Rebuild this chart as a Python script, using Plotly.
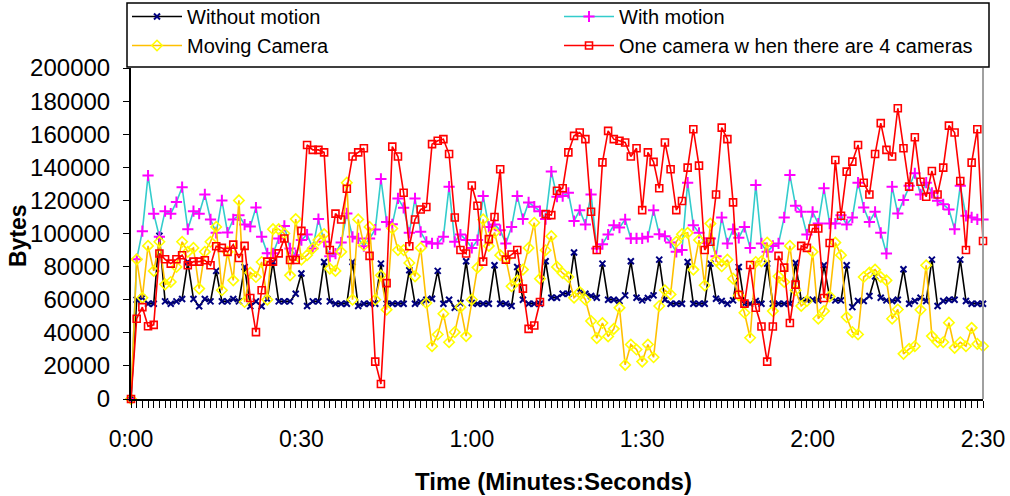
import plotly.graph_objects as go

seconds = list(range(0, 151))
tick_vals = [0, 30, 60, 90, 120, 150]
tick_text = ["0:00", "0:30", "1:00", "1:30", "2:00", "2:30"]

without_motion = [
    0, 60000, 61200, 57600, 57600, 98600, 59000, 57600, 59000, 60400,
    82800, 60400, 56000, 60400, 59000, 77400, 59000, 59000, 60400, 59000,
    79800, 56000, 59000, 56000, 60400, 82800, 59000, 59000, 59000, 63600,
    75800, 56200, 59000, 59000, 82800, 59000, 57600, 57600, 57600, 82800,
    56200, 57600, 57600, 57600, 81800, 57600, 57600, 57600, 57600, 77800,
    57600, 58600, 60000, 60600, 77400, 57600, 60000, 55100, 58000, 83200,
    58000, 57600, 57600, 57600, 80800, 57600, 57600, 56200, 79800, 60000,
    57600, 57600, 57600, 83200, 61200, 61200, 63600, 63600, 88500, 64600,
    63600, 62200, 61200, 81800, 60000, 60000, 59200, 62600, 83200, 61200,
    59600, 61000, 62600, 84200, 60000, 57600, 57600, 57600, 82800, 57600,
    57600, 57600, 81800, 60600, 59200, 57600, 59600, 79800, 57600, 57600,
    59200, 57600, 81800, 57600, 57600, 57600, 57600, 82200, 59600, 59600,
    60000, 59600, 80800, 61600, 59600, 59600, 80800, 55500, 59200, 59200,
    62200, 74100, 61200, 59600, 59200, 60000, 78400, 57600, 59200, 61200,
    59200, 84200, 56200, 59200, 60000, 60000, 84200, 59200, 57600, 57600,
    57600,
]

with_motion = [
    0, 84400, 101400, 135000, 112000, 98000, 113500, 112000, 119000, 128000,
    102600, 113500, 112000, 123600, 108500, 100400, 120000, 100600, 108500, 111000,
    105400, 104200, 115700, 98000, 88000, 88000, 97000, 104600, 91000, 86900,
    96000, 99400, 91000, 108700, 95000, 86300, 87900, 94500, 112100, 98000,
    97000, 92300, 97000, 102400, 133000, 107000, 105600, 121200, 115500, 100400,
    121200, 101000, 95000, 94000, 94000, 98000, 128300, 95000, 99400, 96000,
    91300, 96000, 122600, 104000, 105400, 102000, 94000, 104000, 122600, 108700,
    118800, 116200, 113500, 108700, 137400, 122200, 122600, 124600, 107500, 114100,
    105400, 123600, 91000, 93500, 99400, 105000, 103600, 108500, 97000, 97000,
    97000, 98000, 114100, 99600, 98400, 94500, 88900, 90000, 130700, 105000,
    100400, 94300, 97000, 86300, 109700, 94000, 102600, 97400, 104000, 91300,
    129300, 94000, 88900, 92500, 94000, 109700, 135300, 116800, 113100, 99400,
    113100, 106000, 127300, 106000, 106000, 111100, 105400, 109600, 130700, 115700,
    107000, 113100, 100400, 87900, 128300, 112100, 120200, 128900, 136400, 123600,
    130700, 124600, 119800, 117600, 114500, 102600, 128900, 110700, 109700, 108500,
    108500,
]

moving_camera = [
    0, 84400, 61200, 92500, 77400, 95000, 69300, 70700, 79800, 95000,
    88900, 91300, 66700, 88900, 95000, 104000, 65700, 88900, 71700, 120000,
    58600, 76400, 73700, 82800, 60000, 102600, 102600, 100000, 74700, 108700,
    84200, 86900, 91000, 96000, 99600, 78800, 77400, 88900, 130700, 60000,
    108500, 92900, 104000, 60000, 74700, 54000, 103000, 90000, 90000, 82200,
    74100, 91300, 58000, 31900, 39000, 51500, 34300, 40400, 55500, 38000,
    60000, 79400, 108500, 92500, 100600, 86900, 84800, 68100, 71700, 78200,
    91300, 106500, 72700, 89900, 98400, 79800, 76000, 73700, 61200, 64600,
    60000, 47100, 36800, 45900, 37800, 42400, 55100, 20600, 32900, 29900,
    22600, 32900, 25200, 56200, 65700, 63200, 95000, 99600, 100400, 78200,
    96000, 68700, 106000, 83800, 80200, 84200, 72700, 62600, 52100, 37000,
    82800, 83200, 94500, 53100, 74100, 70700, 92500, 65700, 56200, 59200,
    88900, 48500, 53100, 62000, 94500, 86900, 49500, 40400, 39000, 73700,
    76400, 78200, 73700, 71700, 48500, 54100, 27300, 30300, 31900, 53900,
    80800, 38000, 34300, 34300, 46100, 30900, 34300, 31900, 43000, 33300,
    31900,
]

one_of_four = [
    0, 48500, 55500, 44000, 44800, 87900, 84400, 81800, 84400, 86900,
    80800, 83000, 83000, 83800, 80800, 92300, 91300, 88900, 93300, 85200,
    92500, 61000, 40400, 65700, 83000, 83000, 88000, 97000, 84000, 84000,
    101600, 153500, 150500, 150500, 149000, 90000, 112000, 108500, 127000, 146500,
    149000, 151500, 86500, 22600, 9100, 70000, 152500, 146500, 124600, 92300,
    108500, 114500, 116000, 154000, 156000, 157000, 148000, 109700, 90000, 87900,
    129000, 116800, 83000, 96600, 110000, 138800, 84200, 87300, 90000, 66700,
    42400, 44400, 58600, 111700, 111100, 125800, 127300, 149000, 159000, 161000,
    157000, 113100, 90000, 143000, 162000, 157000, 156000, 155000, 146500, 151500,
    114100, 149000, 143300, 127300, 155000, 138800, 114100, 119600, 139800, 163000,
    141000, 90000, 95000, 123600, 164000, 157000, 118800, 63000, 57600, 81000,
    55100, 43800, 22600, 43800, 86500, 79400, 45900, 69100, 92500, 91300,
    103000, 103000, 61000, 94300, 144400, 110700, 137400, 143400, 153500, 130700,
    123600, 148000, 166700, 150500, 146500, 175700, 151500, 128300, 158200, 131300,
    122200, 137800, 123600, 139800, 165200, 161000, 131700, 90000, 142800, 163000,
    95500,
]

FONT = "Liberation Sans, Arial, sans-serif"

fig = go.Figure()
fig.add_trace(go.Scatter(
    x=seconds, y=without_motion, name="Without motion", mode="lines+markers",
    line=dict(color="#000000", width=1.6),
    marker=dict(symbol="x-thin", size=6, color="#000080", line=dict(color="#000080", width=2)),
    cliponaxis=False,
))
fig.add_trace(go.Scatter(
    x=seconds, y=with_motion, name="With motion", mode="lines+markers",
    line=dict(color="#33CCCC", width=1.6),
    marker=dict(symbol="cross-thin", size=8, color="#FF00FF", line=dict(color="#FF00FF", width=2)),
    cliponaxis=False,
))
fig.add_trace(go.Scatter(
    x=seconds, y=moving_camera, name="Moving Camera", mode="lines+markers",
    line=dict(color="#FFC000", width=1.6),
    marker=dict(symbol="diamond-open", size=8, color="#FFFF00", line=dict(color="#FFFF00", width=1.6)),
    cliponaxis=False,
))
fig.add_trace(go.Scatter(
    x=seconds, y=one_of_four, name="One camera w hen there are 4 cameras", mode="lines+markers",
    line=dict(color="#FF0000", width=1.6),
    marker=dict(symbol="square-open", size=7, color="#FF0000", line=dict(color="#FF0000", width=1.6)),
    cliponaxis=False,
))

# plot area in page pixels: x 131..983, y 68..399
L, R, T, B = 131, 983, 68, 399
W, H = 1010, 496
def px(xp):
    return (xp - L) / (R - L)
def py(yp):
    return (B - yp) / (B - T)

fig.update_layout(
    width=W, height=H,
    margin=dict(l=L, r=W - R, t=T, b=H - B, autoexpand=False),
    paper_bgcolor="white", plot_bgcolor="white",
    font=dict(family=FONT, size=22, color="black"),
    showlegend=True,
    legend=dict(
        orientation="h", x=px(127), xanchor="left", y=py(-3), yanchor="top",
        entrywidth=367, entrywidthmode="pixels",
        bgcolor="rgba(0,0,0,0)", borderwidth=0,
        font=dict(family=FONT, size=20, color="black"),
        tracegroupgap=0, itemwidth=50,
    ),
    xaxis=dict(
        range=[0, 150], tickvals=tick_vals, ticktext=tick_text,
        showgrid=False, zeroline=False, showline=True, linecolor="black", linewidth=2,
        ticks="outside", ticklen=7, tickcolor="black", tickwidth=1,
        ticklabelstandoff=11, automargin=False,
        minor=dict(dtick=1, ticks="outside", ticklen=7, tickcolor="black", tickwidth=1, showgrid=False),
        tickfont=dict(size=23),
    ),
    yaxis=dict(
        range=[0, 200000], dtick=20000, tickformat="d",
        showgrid=False, zeroline=False, showline=True, linecolor="black", linewidth=2,
        ticks="outside", ticklen=6, tickcolor="black", tickwidth=1,
        ticklabelstandoff=8, automargin=False,
        tickfont=dict(size=24),
    ),
    annotations=[
        dict(text="<b>Bytes</b>", xref="paper", yref="paper", x=px(18), y=py(236),
             xanchor="center", yanchor="middle", textangle=-90, showarrow=False,
             font=dict(family=FONT, size=23, color="black")),
        dict(text="<b>Time (Minutes:Seconds)</b>", xref="paper", yref="paper", x=px(553), y=py(481),
             xanchor="center", yanchor="middle", showarrow=False,
             font=dict(family=FONT, size=24, color="black")),
    ],
    shapes=[
        dict(type="line", xref="paper", yref="paper", x0=1, x1=1, y0=0, y1=1,
             line=dict(color="#A0A0A0", width=2)),
        dict(type="rect", xref="paper", yref="paper", x0=px(127), x1=px(989), y0=py(67), y1=py(3),
             line=dict(color="black", width=1.5), fillcolor="rgba(0,0,0,0)", layer="above"),
    ],
)

fig.write_html(
    "out.html",
    config={"displayModeBar": False},
    post_script="document.body.style.margin='0px';document.body.style.overflow='hidden';",
)
